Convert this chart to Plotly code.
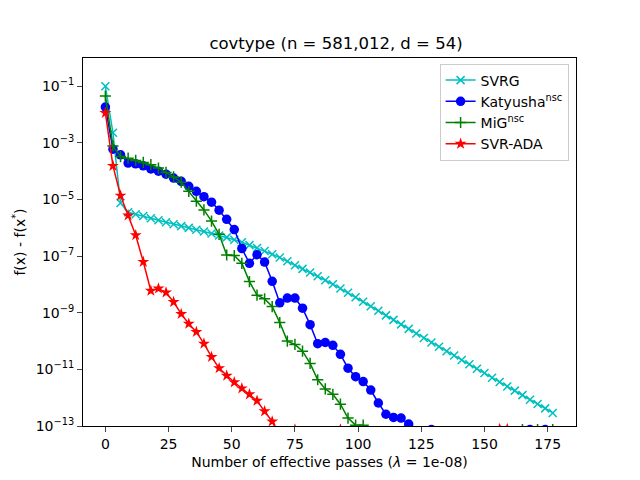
import plotly.graph_objects as go

# effective passes, one point every 3 passes
passes = list(range(0, 180, 3))

svrg = [1.0e-1, 2.29e-3, 7.59e-6, 3.55e-6, 3.02e-6, 2.63e-6, 2.19e-6, 1.86e-6, 1.58e-6, 1.35e-6,
        1.15e-6, 1.0e-6, 8.5e-7, 7.4e-7, 6.3e-7, 5.4e-7, 4.6e-7, 3.8e-7, 3.1e-7, 2.45e-7,
        1.95e-7, 1.51e-7, 1.17e-7, 8.9e-8, 6.6e-8, 4.8e-8, 3.55e-8, 2.63e-8, 1.95e-8, 1.41e-8,
        1.02e-8, 7.2e-9, 5.1e-9, 3.55e-9, 2.45e-9, 1.70e-9, 1.17e-9, 8.1e-10, 5.6e-10, 3.9e-10,
        2.7e-10, 1.86e-10, 1.29e-10, 8.9e-11, 6.3e-11, 4.4e-11, 3.1e-11, 2.14e-11, 1.51e-11, 1.05e-11,
        7.4e-12, 5.1e-12, 3.6e-12, 2.5e-12, 1.78e-12, 1.23e-12, 8.5e-13, 6.0e-13, 4.2e-13, 2.9e-13]

katyusha = [1.86e-2, 6.0e-4, 3.8e-4, 1.95e-4, 1.82e-4, 1.55e-4, 1.20e-4, 1.0e-4, 7.9e-5, 5.75e-5,
            4.4e-5, 2.95e-5, 1.95e-5, 1.26e-5, 8.1e-6, 4.2e-6, 2.0e-6, 8.7e-7, 1.86e-7, 5.6e-8,
            1.12e-7, 6.2e-8, 1.29e-8, 2.24e-9, 3.3e-9, 3.3e-9, 1.45e-9, 3.8e-10, 8.1e-11, 8.9e-11,
            7.1e-11, 3.4e-11, 1.10e-11, 5.5e-12, 3.7e-12, 1.86e-12, 6.5e-13, 2.6e-13, 2.0e-13, 1.9e-13,
            1.17e-13, 4e-14, 1.5e-14, 7.5e-14, 1e-14, 6e-15, 5e-15, 4e-15, 5e-15, 6e-15,
            4e-15, 5e-15, 6e-15, 5e-15, 4e-15, 5e-15, 7.5e-14, 1e-14, 7.5e-14, 2e-14]

mig = [4.5e-2, 7.8e-4, 3.3e-4, 2.9e-4, 2.4e-4, 2.04e-4, 1.70e-4, 1.29e-4, 9.1e-5, 6.3e-5,
       4.1e-5, 1.95e-5, 8.7e-6, 4.3e-6, 1.74e-6, 5.9e-7, 1.10e-7, 1.05e-7, 5.6e-8, 1.26e-8,
       4.2e-9, 3.1e-9, 1.66e-9, 4.5e-10, 1.0e-10, 7.6e-11, 4.4e-11, 1.62e-11, 4.3e-12, 2.04e-12,
       1.32e-12, 5.9e-13, 1.9e-13, 1.07e-13, 1.07e-13, 3e-14, 1e-14, 6e-15, 5e-15, 4e-15,
       5e-15, 6e-15, 4e-15, 5e-15, 6e-15, 5e-15, 4e-15, 5e-15, 6e-15, 5e-15,
       4e-15, 5e-15, 6e-15, 5e-15, 4e-15, 7.5e-14, 1e-14, 7.5e-14, 1e-14, 7.5e-14]

svr_ada = [1.15e-2, 1.55e-4, 1.38e-5, 2.75e-6, 5.5e-7, 6.3e-8, 6.0e-9, 7.2e-9, 5.2e-9, 2.4e-9,
           9.1e-10, 4.1e-10, 2.1e-10, 8.1e-11, 2.75e-11, 1.10e-11, 6.0e-12, 3.5e-12, 2.14e-12, 1.32e-12,
           7.8e-13, 3.3e-13, 1.45e-13, 4e-14, 2e-14, 7.5e-14, 1e-14, 6e-15, 5e-15, 4e-15,
           1e-14, 7.5e-14, 1e-14, 5e-15, 4e-15, 5e-15, 6e-15, 5e-15, 4e-15, 5e-15,
           6e-15, 5e-15, 4e-15, 5e-15, 6e-15, 5e-15, 4e-15, 5e-15, 6e-15, 5e-15,
           4e-15, 5e-15, 7.8e-14, 7.8e-14, 1e-14, 5e-15, 4e-15, 5e-15, 6e-15, 5e-15]

ytick_exps = [-1, -3, -5, -7, -9, -11, -13]
xticks = [0, 25, 50, 75, 100, 125, 150, 175]

series = [
    ("SVRG", svrg, "#00bfbf", "x-thin", 8),
    ("Katyusha<sup>nsc</sup>", katyusha, "#0000ff", "circle", 9.5),
    ("MiG<sup>nsc</sup>", mig, "#008000", "cross-thin", 8),
    ("SVR-ADA", svr_ada, "#ff0000", "star", 9),
]

fig = go.Figure()
for name, vals, col, sym, sz in series:
    fig.add_trace(go.Scatter(
        x=passes, y=vals, name=name, mode="lines+markers",
        line=dict(color=col, width=1.5),
        marker=dict(symbol=sym, size=sz, color=col,
                    line=dict(color=col, width=1.5 if "thin" in sym else 0)),
    ))

# the page adds an 8px body margin, so the figure is drawn 8px smaller
font = "DejaVu Sans, Arial, sans-serif"
fig.update_layout(
    width=632, height=472,
    paper_bgcolor="white", plot_bgcolor="white",
    margin=dict(l=72, r=64, t=50, b=53),
    font=dict(family=font, size=14, color="black"),
    title=dict(text="covtype (n = 581,012, d = 54)", x=0.519, xanchor="center",
               y=0.926, yanchor="middle", font=dict(size=16.5)),
    legend=dict(x=0.985, y=0.985, xanchor="right", yanchor="top",
                bordercolor="#cccccc", borderwidth=1, bgcolor="rgba(255,255,255,0.8)",
                font=dict(size=14), tracegroupgap=2),
    xaxis=dict(range=[-8.85, 186.2], tickvals=xticks, ticks="outside", ticklen=5,
               showline=True, linecolor="black", linewidth=1, mirror=True,
               showgrid=False, zeroline=False, tickfont=dict(size=14),
               title=dict(text="Number of effective passes (<i>λ</i> = 1e-08)",
                          font=dict(size=14), standoff=6)),
    yaxis=dict(type="log", range=[-13, 0],
               tickvals=[10.0 ** e for e in ytick_exps],
               ticktext=["10<sup>−%d</sup>" % (-e) for e in ytick_exps],
               ticks="outside", ticklen=5,
               showline=True, linecolor="black", linewidth=1, mirror=True,
               showgrid=False, zeroline=False, tickfont=dict(size=14),
               title=dict(text="f(x) - f(x<sup>*</sup>)", font=dict(size=14), standoff=6)),
)

fig.write_html("out.html")
